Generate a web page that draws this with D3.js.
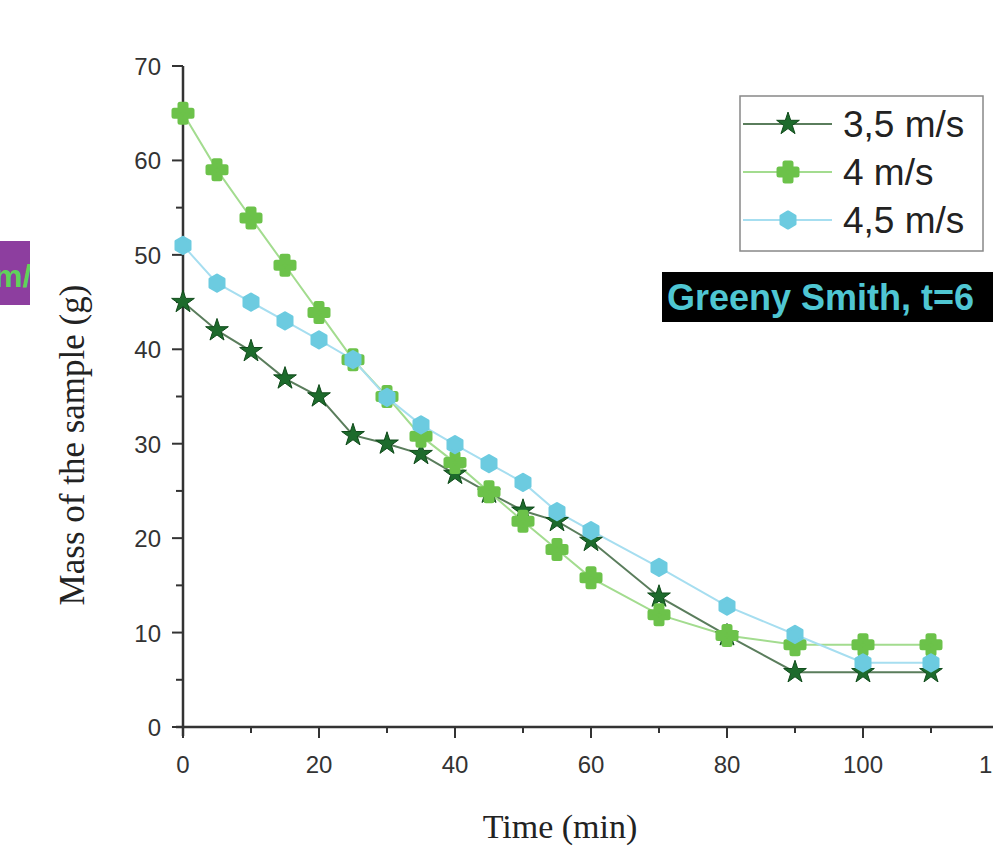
<!DOCTYPE html>
<html>
<head>
<meta charset="utf-8">
<script src="https://cdn.jsdelivr.net/npm/d3@7"></script>
<style>
  body { margin: 0; background: #fff; }
  svg { display: block; }
</style>
</head>
<body>
<svg id="chart" width="993" height="846"></svg>
<script>
// data
const times = [0, 5, 10, 15, 20, 25, 30, 35, 40, 45, 50, 55, 60, 70, 80, 90, 100, 110];
const mass35 = [45, 42, 39.8, 36.9, 35, 30.9, 30, 28.9, 26.8, 24.8, 22.9, 21.8, 19.7, 13.8, 9.7, 5.8, 5.8, 5.8];
const mass40 = [65, 59, 53.9, 48.9, 43.9, 38.9, 35, 30.8, 28, 24.9, 21.8, 18.8, 15.8, 11.9, 9.7, 8.7, 8.7, 8.7];
const mass45 = [51, 47, 45, 43, 41, 38.9, 34.9, 32, 29.9, 27.9, 25.9, 22.8, 20.8, 16.9, 12.8, 9.8, 6.8, 6.8];
const seriesNames = ['3,5 m/s', '4 m/s', '4,5 m/s'];
const xTicks = [0, 20, 40, 60, 80, 100, 120];
const yTicks = [0, 10, 20, 30, 40, 50, 60, 70];

const svg = d3.select('#chart');

const x = d3.scaleLinear().domain([0, 120]).range([183, 999]);
const y = d3.scaleLinear().domain([0, 70]).range([727, 66]);

const sans = 'Liberation Sans, Arial, sans-serif';
const serif = 'Liberation Serif, Times New Roman, serif';

// hexagon marker for the 4,5 m/s series
const hexagon = {
  draw(ctx, size) {
    const r = Math.sqrt(size / 2.6);
    for (let i = 0; i < 6; i++) {
      const a = Math.PI / 6 + i * Math.PI / 3;
      const px = r * Math.cos(a), py = r * Math.sin(a);
      if (i === 0) ctx.moveTo(px, py); else ctx.lineTo(px, py);
    }
    ctx.closePath();
  }
};

const series = [
  {name: seriesNames[0], values: mass35, line: '#5a7d5c', fill: '#1d6b2c', stroke: '#0f4a1a', symbol: d3.symbolStar, size: 160, sw: 1},
  {name: seriesNames[1], values: mass40, line: '#a3dc8f', fill: '#6cc24a', stroke: '#6cc24a', symbol: d3.symbolCross, size: 180, sw: 5},
  {name: seriesNames[2], values: mass45, line: '#a6def0', fill: '#6ccbe0', stroke: '#6ccbe0', symbol: hexagon, size: 170, sw: 3}
];

// purple tag cut at the left edge
svg.append('rect').attr('x', 0).attr('y', 241).attr('width', 30).attr('height', 64).attr('fill', '#8d3e9f');
svg.append('text').attr('x', -6).attr('y', 287)
  .attr('font-family', sans).attr('font-weight', 'bold')
  .attr('font-size', 32).attr('fill', '#5fd35a').text('m/');
svg.append('rect').attr('x', 30).attr('y', 241).attr('width', 8).attr('height', 64).attr('fill', '#fff');

// axes
svg.append('line').attr('x1', 176).attr('x2', 993).attr('y1', 727).attr('y2', 727)
  .attr('stroke', '#333').attr('stroke-width', 2.5);
svg.append('line').attr('x1', 183).attr('x2', 183).attr('y1', 66).attr('y2', 736)
  .attr('stroke', '#333').attr('stroke-width', 2.5);

svg.append('g').selectAll('line')
  .data(d3.range(0, 121, 10))
  .join('line')
  .attr('x1', d => x(d)).attr('x2', d => x(d))
  .attr('y1', 727).attr('y2', d => d % 20 === 0 ? 738 : 733)
  .attr('stroke', '#333').attr('stroke-width', 2);

svg.append('g').selectAll('text')
  .data(xTicks)
  .join('text')
  .attr('x', d => x(d)).attr('y', 773)
  .attr('text-anchor', 'middle')
  .attr('font-family', sans)
  .attr('font-size', 24).attr('fill', '#333')
  .text(d => d);

svg.append('g').selectAll('line')
  .data(d3.range(0, 71, 5))
  .join('line')
  .attr('x1', d => d % 10 === 0 ? 172 : 176).attr('x2', 183)
  .attr('y1', d => y(d)).attr('y2', d => y(d))
  .attr('stroke', '#333').attr('stroke-width', 2);

svg.append('g').selectAll('text')
  .data(yTicks)
  .join('text')
  .attr('x', 161).attr('y', d => y(d) + 9)
  .attr('text-anchor', 'end')
  .attr('font-family', sans)
  .attr('font-size', 24).attr('fill', '#333')
  .text(d => d);

// axis titles
svg.append('text').attr('x', 560).attr('y', 838)
  .attr('text-anchor', 'middle')
  .attr('font-family', serif)
  .attr('font-size', 34).attr('fill', '#222')
  .text('Time (min)');
svg.append('text')
  .attr('transform', 'translate(84,445) rotate(-90)')
  .attr('text-anchor', 'middle')
  .attr('font-family', serif)
  .attr('font-size', 35).attr('fill', '#222')
  .text('Mass of the sample (g)');

// lines and markers
const line = d3.line().x((d, i) => x(times[i])).y(d => y(d));

series.forEach(s => {
  svg.append('path')
    .datum(s.values)
    .attr('d', line)
    .attr('fill', 'none')
    .attr('stroke', s.line)
    .attr('stroke-width', 2);
});

series.forEach(s => {
  svg.append('g').selectAll('path')
    .data(s.values)
    .join('path')
    .attr('transform', (d, i) => `translate(${x(times[i])},${y(d)})`)
    .attr('d', d3.symbol().type(s.symbol).size(s.size))
    .attr('fill', s.fill)
    .attr('stroke', s.stroke)
    .attr('stroke-width', s.sw)
    .attr('stroke-linejoin', 'round');
});

// legend
const legend = svg.append('g');
legend.append('rect').attr('x', 740).attr('y', 96).attr('width', 243).attr('height', 155)
  .attr('fill', '#fff').attr('stroke', '#888').attr('stroke-width', 1.5);
const rows = legend.selectAll('g.row')
  .data(series)
  .join('g')
  .attr('class', 'row')
  .attr('transform', (d, i) => `translate(0,${124 + i * 48})`);
rows.append('line').attr('x1', 743).attr('x2', 832).attr('y1', 0).attr('y2', 0)
  .attr('stroke', d => d.line).attr('stroke-width', 2);
rows.append('path')
  .attr('transform', 'translate(788,0)')
  .attr('d', d => d3.symbol().type(d.symbol).size(d.size)())
  .attr('fill', d => d.fill).attr('stroke', d => d.stroke)
  .attr('stroke-width', d => d.sw).attr('stroke-linejoin', 'round');
rows.append('text').attr('x', 843).attr('y', 13)
  .attr('font-family', sans)
  .attr('font-size', 37).attr('fill', '#222')
  .text(d => d.name);

// sample label
svg.append('rect').attr('x', 662).attr('y', 272).attr('width', 331).attr('height', 50).attr('fill', '#000');
svg.append('text').attr('x', 667).attr('y', 310)
  .attr('font-family', sans).attr('font-weight', 'bold')
  .attr('font-size', 36).attr('fill', '#4fc6d2')
  .text('Greeny Smith, t=6');
</script>
</body>
</html>
